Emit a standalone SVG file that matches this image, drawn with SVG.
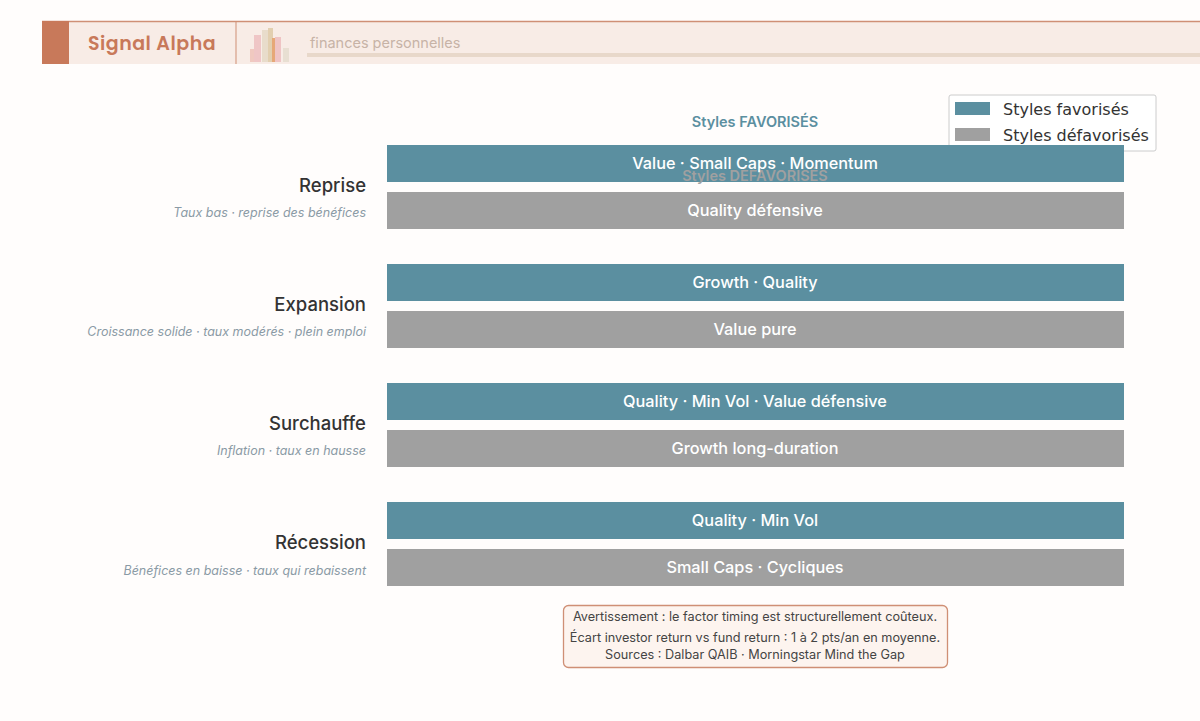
<svg xmlns="http://www.w3.org/2000/svg" width="1200" height="721" viewBox="0 0 1200 721">
<style>
.bar{stroke:none}
.fav{fill:#5b8fa0}
.def{fill:#a0a0a0}
.bt{font-family:Inter,"Liberation Sans",sans-serif;font-size:16.3px;font-weight:500;fill:#fff;text-anchor:middle}
.ph{font-family:Inter,"Liberation Sans",sans-serif;font-size:18.5px;font-weight:500;fill:#333;text-anchor:end}
.sub{font-family:Inter,"Liberation Sans",sans-serif;font-size:12.5px;font-style:italic;fill:#8a9aa5;text-anchor:end}
.nt{font-family:Inter,"Liberation Sans",sans-serif;font-size:12.7px;fill:#444;text-anchor:middle}
</style>
<rect width="1200" height="721" fill="#fffdfc"/>
<g id="header">
<rect x="42" y="21" width="1160" height="43" fill="#f8ece6"/>
<line x1="42" y1="21.5" x2="1200" y2="21.5" stroke="#cf8f75" stroke-width="1.5"/>
<rect x="42" y="21" width="27" height="43" fill="#c8795a"/>
<line x1="236" y1="21" x2="236" y2="64" stroke="#cf8f75"/>
<text x="152" y="50" font-family="Poppins,'Noto Sans',sans-serif" font-size="19" font-weight="600" fill="#c8795a" text-anchor="middle" letter-spacing="0.5">Signal Alpha</text>
<rect x="250" y="49" width="6" height="13" fill="#f0c9c0"/>
<rect x="254" y="35" width="7" height="27" fill="#efc6c6"/>
<rect x="262" y="30" width="8" height="32" fill="#e8dccb"/>
<rect x="268" y="28" width="5" height="34" fill="#e2cfb0"/>
<rect x="272" y="38" width="5" height="24" fill="#e6a878"/>
<rect x="275" y="37" width="6" height="25" fill="#efc4c4"/>
<rect x="283" y="48" width="6" height="14" fill="#e8dfd2"/>
<text x="310" y="48" font-family="Inter,'Liberation Sans',sans-serif" font-size="14.5" fill="#c7b3a6">finances personnelles</text>
<rect x="307" y="53" width="893" height="4" fill="#e8d8ca"/>
</g>
<g id="legend">
<rect x="949" y="95" width="207" height="56" fill="#fff" stroke="#ccc" rx="2"/>
<rect x="955" y="102" width="35" height="13" fill="#5b8fa0"/>
<rect x="955" y="128" width="35" height="13" fill="#a0a0a0"/>
<text x="1003" y="115" font-family="'DejaVu Sans',sans-serif" font-size="16" fill="#333">Styles favorisés</text>
<text x="1003" y="141" font-family="'DejaVu Sans',sans-serif" font-size="16" fill="#333">Styles défavorisés</text>
</g>
<text x="755" y="127" font-family="Inter,'Liberation Sans',sans-serif" font-size="14.5" font-weight="600" fill="#5b8fa0" text-anchor="middle">Styles FAVORISÉS</text>
<g id="reprise">
<rect class="bar fav" x="387" y="145" width="737" height="37"/>
<text x="755" y="181" font-family="Inter,'Liberation Sans',sans-serif" font-size="14.5" font-weight="600" fill="#a0a0a0" text-anchor="middle">Styles DÉFAVORISÉS</text>
<text class="bt" x="755" y="169">Value · Small Caps · Momentum</text>
<rect class="bar def" x="387" y="192" width="737" height="37"/>
<text class="bt" x="755" y="216">Quality défensive</text>
<text class="ph" x="366" y="192">Reprise</text>
<text class="sub" x="366" y="217">Taux bas · reprise des bénéfices</text>
</g>
<g id="expansion">
<rect class="bar fav" x="387" y="264" width="737" height="37"/>
<text class="bt" x="755" y="288">Growth · Quality</text>
<rect class="bar def" x="387" y="311" width="737" height="37"/>
<text class="bt" x="755" y="335">Value pure</text>
<text class="ph" x="366" y="311">Expansion</text>
<text class="sub" x="366" y="336">Croissance solide · taux modérés · plein emploi</text>
</g>
<g id="surchauffe">
<rect class="bar fav" x="387" y="383" width="737" height="37"/>
<text class="bt" x="755" y="407">Quality · Min Vol · Value défensive</text>
<rect class="bar def" x="387" y="430" width="737" height="37"/>
<text class="bt" x="755" y="454">Growth long-duration</text>
<text class="ph" x="366" y="430">Surchauffe</text>
<text class="sub" x="366" y="455">Inflation · taux en hausse</text>
</g>
<g id="recession">
<rect class="bar fav" x="387" y="502" width="737" height="37"/>
<text class="bt" x="755" y="526">Quality · Min Vol</text>
<rect class="bar def" x="387" y="549" width="737" height="37"/>
<text class="bt" x="755" y="573">Small Caps · Cycliques</text>
<text class="ph" x="366" y="549">Récession</text>
<text class="sub" x="366" y="575">Bénéfices en baisse · taux qui rebaissent</text>
</g>
<g id="connectors"/>
<g id="note">
<rect x="563.500" y="605.500" width="384" height="62" rx="5" fill="#fdf4ef" stroke="#cf8f75" stroke-width="1.3"/>
<text class="nt" x="755" y="621">Avertissement : le factor timing est structurellement coûteux.</text>
<text class="nt" x="755" y="642">Écart investor return vs fund return : 1 à 2 pts/an en moyenne.</text>
<text class="nt" x="755" y="659">Sources : Dalbar QAIB · Morningstar Mind the Gap</text>
</g>
</svg>
